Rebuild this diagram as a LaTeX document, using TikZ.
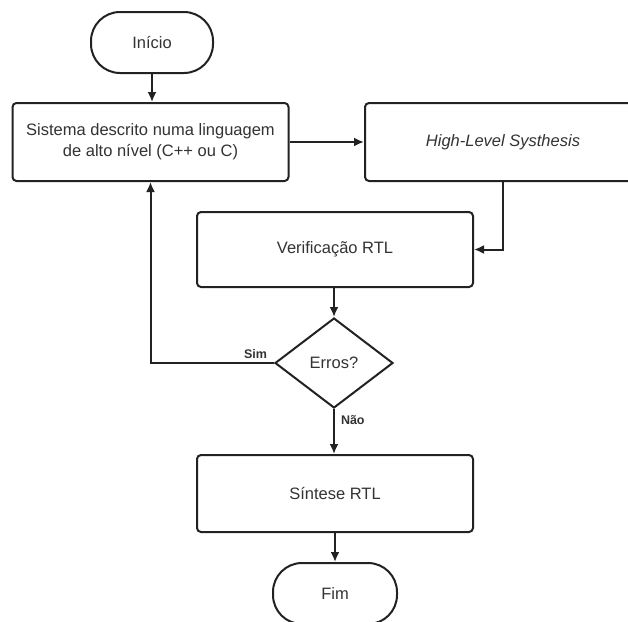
\documentclass[tikz,border=0pt]{standalone}
\usepackage{fontspec}
\setmainfont{Liberation Sans}
\usepackage{xcolor}
\usetikzlibrary{arrows.meta,calc,positioning,shapes.geometric}
\definecolor{flowline}{HTML}{222222}
\definecolor{flowtext}{HTML}{333333}
\tikzset{
  flowarrow/.style={flowline, -{Latex[length=10pt,width=9pt]}, line width=2pt},
  terminal/.style={draw=flowline, line width=2pt, rounded corners=29pt, minimum width=122pt, minimum height=61pt, inner sep=0pt, font=\fontsize{16.5}{20}\selectfont, text=flowtext},
  procbox/.style={draw=flowline, line width=2pt, rounded corners=4pt, minimum width=276pt, minimum height=77pt, align=center, inner sep=0pt, font=\fontsize{16.5}{21}\selectfont, text=flowtext},
  decision/.style={draw=flowline, line width=2pt, diamond, minimum width=118pt, minimum height=90pt, inner sep=0pt, font=\fontsize{16.5}{20}\selectfont, text=flowtext},
  branchlabel/.style={font=\bfseries\fontsize{12.5}{15}\selectfont, text=flowtext, inner sep=1pt}
}
\begin{document}
\begin{tikzpicture}[x=1pt,y=-1pt]
  \clip (0,0) rectangle (628,621);
  \fill[white] (0,0) rectangle (628,621);
  % shapes
  \node[terminal] (inicio) at (152,42.5) {Início};
  \node[procbox, minimum height=78pt] (sistema) at (150.5,142) {Sistema descrito numa linguagem\\de alto nível (C++ ou C)};
  \node[procbox, minimum height=78pt] (hls) at (503,142) {\itshape High-Level Systhesis};
  \node[procbox, minimum height=75pt] (verif) at (335,249.5) {Verificação RTL};
  \node[decision] (erros) at (334,363) {Erros?};
  \node[procbox] (sintese) at (335,493.5) {Síntese RTL};
  \node[terminal, minimum width=124pt] (fim) at (335,593.5) {Fim};
  % connectors
  \draw[flowarrow] (inicio) -- (inicio |- sistema.north);
  \draw[flowarrow] (sistema) -- (hls);
  \draw[flowarrow] (hls.south) |- (verif.east);
  \draw[flowarrow] (verif.south -| erros.north) -- (erros.north);
  \draw[flowarrow] (erros.west) -| (sistema.south) node[branchlabel, pos=0.075, above, yshift=2pt] {Sim};
  \draw[flowarrow] (erros.south) -- (erros.south |- sintese.north) node[branchlabel, pos=0.25, right, xshift=5pt] {Não};
  \draw[flowarrow] (sintese.south -| fim.north) -- (fim.north);
\end{tikzpicture}
\end{document}
